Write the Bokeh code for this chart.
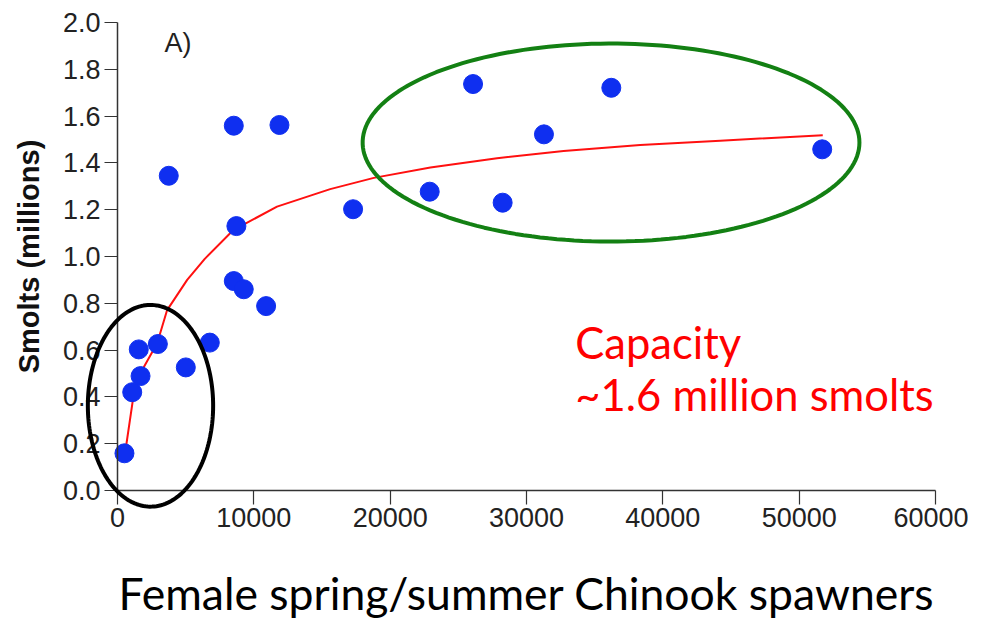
import numpy as np
from bokeh.plotting import figure
from bokeh.models import Range1d, FixedTicker, NumeralTickFormatter, PolyAnnotation, Label
from bokeh.embed import file_html
from bokeh.resources import INLINE

spawners = [510, 1080, 1560, 1690, 2960, 5010, 6770, 8530, 9260, 10900,
            3760, 8530, 11880, 8720, 17280, 22900, 26080, 28250, 31280, 36220, 51690]
smolts = [0.159, 0.420, 0.603, 0.489, 0.626, 0.526, 0.632, 0.895, 0.860, 0.788,
          1.345, 1.559, 1.562, 1.130, 1.202, 1.277, 1.737, 1.230, 1.522, 1.721, 1.458]

# Fitted curve
fit_spawners = [590, 1200, 1810, 2910, 3640, 5110, 6400, 8500, 11700, 15600,
                18800, 22950, 27840, 32720, 38340, 44210, 51730]
fit_smolts = [0.173, 0.415, 0.515, 0.629, 0.771, 0.900, 0.990, 1.113, 1.213, 1.288,
              1.336, 1.380, 1.420, 1.451, 1.477, 1.495, 1.518]

x_ticks = [0, 10000, 20000, 30000, 40000, 50000, 60000]
y_ticks = [0.0, 0.2, 0.4, 0.6, 0.8, 1.0, 1.2, 1.4, 1.6, 1.8, 2.0]

# Highlight ellipses: (center x, center y, width, height) in data units
low_group = (2420, 0.362, 9190, 0.862)
high_group = (36200, 1.487, 36440, 0.846)

panel_label = "A)"
capacity_lines = ["Capacity", "~1.6 million smolts"]
x_title = "Female spring/summer Chinook spawners"
y_title = "Smolts (millions)"

W, H = 968, 618
# the plotting area fills the canvas; axes are pinned at data zero
p = figure(width=W, height=H, output_backend="svg", toolbar_location=None,
           x_range=Range1d(-8582, 62420), y_range=Range1d(-0.547, 2.094),
           min_border_left=0, min_border_right=0, min_border_top=0, min_border_bottom=0)
p.outline_line_color = None
p.xgrid.grid_line_color = None
p.ygrid.grid_line_color = None
p.background_fill_color = "white"
p.border_fill_color = "white"

for ax in (p.xaxis[0], p.yaxis[0]):
    ax.fixed_location = 0
    ax.axis_line_color = "#333333"
    ax.axis_line_width = 1.5
    ax.major_tick_line_color = "#333333"
    ax.major_tick_line_width = 1.2
    ax.major_tick_in = 0
    ax.minor_tick_line_color = None
    ax.major_label_text_font = "Liberation Sans"
    ax.major_label_text_font_size = "27px"
    ax.major_label_text_color = "#222222"

p.xaxis.bounds = (0, 60000)
p.yaxis.bounds = (0, 2.0)
p.xaxis.ticker = FixedTicker(ticks=x_ticks)
p.yaxis.ticker = FixedTicker(ticks=y_ticks)
p.xaxis.formatter = NumeralTickFormatter(format="0")
p.yaxis.formatter = NumeralTickFormatter(format="0.0")
p.xaxis.major_tick_out = 14
p.yaxis.major_tick_out = 13
p.xaxis.major_label_standoff = 3
p.yaxis.major_label_standoff = 4

p.yaxis.axis_label = y_title
p.yaxis.axis_label_text_font = "Liberation Sans"
p.yaxis.axis_label_text_font_style = "bold"
p.yaxis.axis_label_text_font_size = "29px"
p.yaxis.axis_label_text_color = "#111111"
p.yaxis.axis_label_standoff = 15

p.xaxis.axis_label = x_title
p.xaxis.axis_label_text_font = "Lato"
p.xaxis.axis_label_text_font_style = "normal"
p.xaxis.axis_label_text_font_size = "44.5px"
p.xaxis.axis_label_text_color = "#000000"
p.xaxis.axis_label_standoff = 36

# fitted curve and points
p.line(fit_spawners, fit_smolts, line_color="#ff1010", line_width=2)
p.scatter(spawners, smolts, size=19, fill_color="#0f2ff0", line_color="#0f2ff0")

# ellipses as annotations
def ellipse_outline(cx, cy, w, h, n=180):
    t = np.linspace(0, 2 * np.pi, n)
    return list(cx + w / 2 * np.cos(t)), list(cy + h / 2 * np.sin(t))

for (cx, cy, w, h), col in ((low_group, "black"), (high_group, "#138013")):
    xs, ys = ellipse_outline(cx, cy, w, h)
    p.add_layout(PolyAnnotation(xs=xs, ys=ys, xs_units="data", ys_units="data",
                                fill_alpha=0, line_color=col, line_alpha=1.0, line_width=4))

p.add_layout(Label(x=3450, y=1.912, text=panel_label, text_font="Liberation Sans",
                   text_font_size="27px", text_color="#222222", text_baseline="alphabetic"))

for i, line in enumerate(capacity_lines):
    p.add_layout(Label(x=33580, y=0.635 - i * 0.221, text=line, text_font="Lato",
                       text_font_size="43.5px", text_color="#ff0000", text_baseline="alphabetic"))

open("out.html", "w").write(file_html(p, INLINE))
